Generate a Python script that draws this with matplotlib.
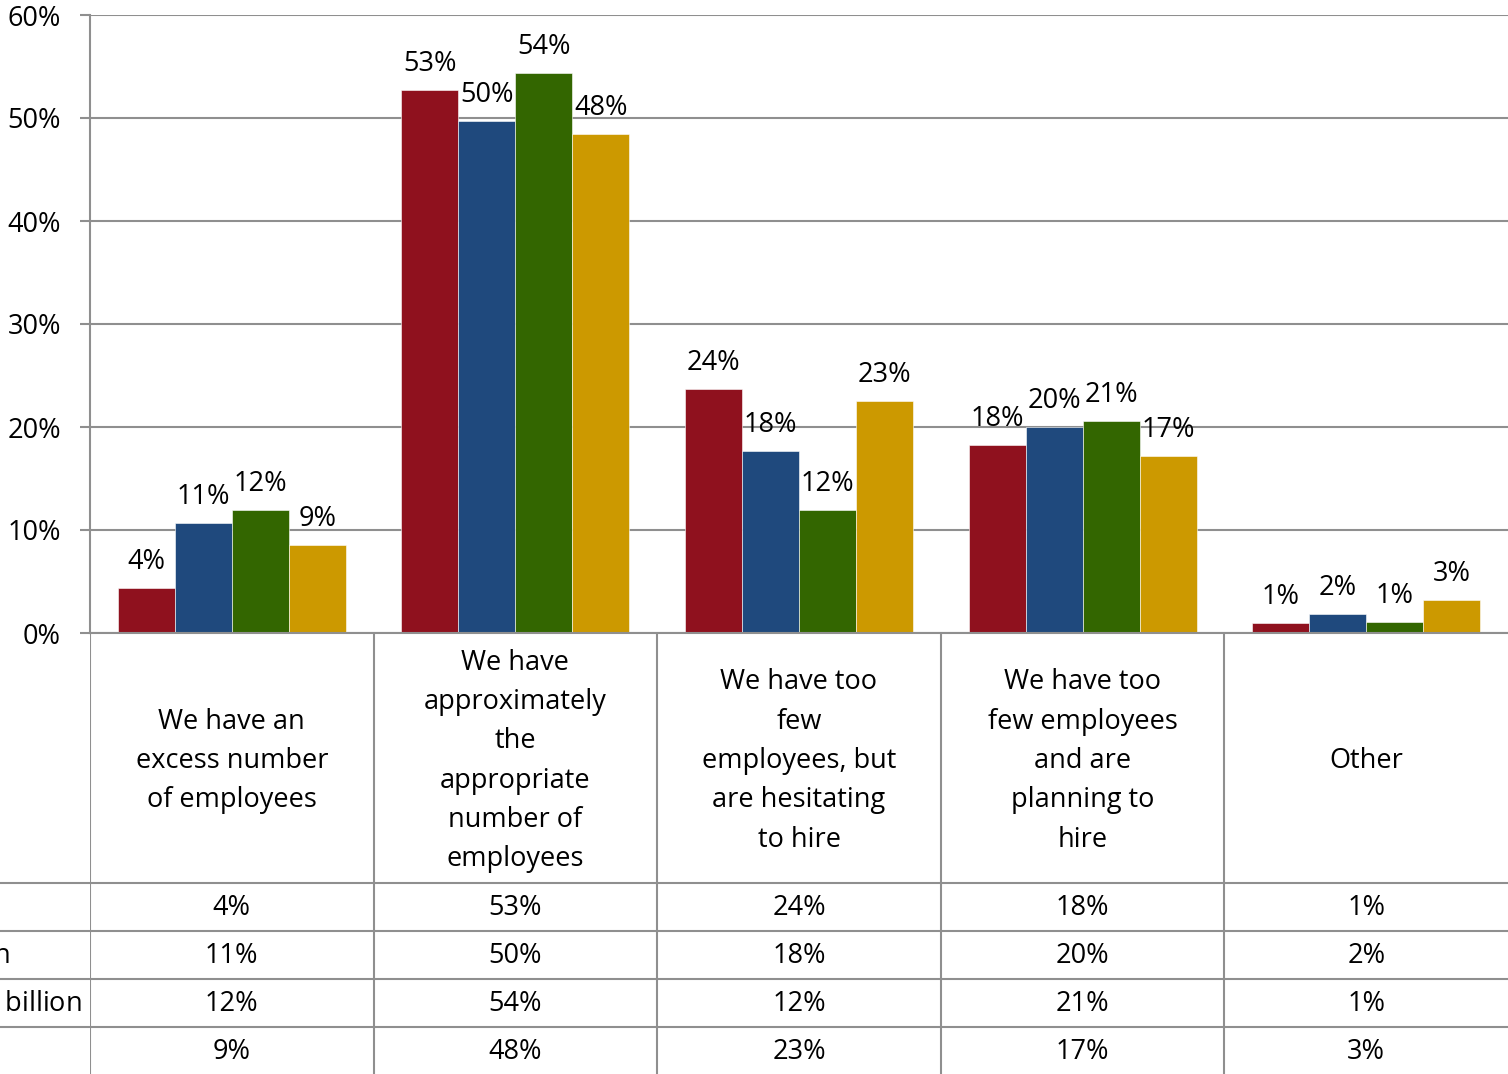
import matplotlib
matplotlib.use("Agg")
import matplotlib.pyplot as plt
import numpy as np

plt.rcParams['font.family'] = ['Open Sans', 'DejaVu Sans']

categories = [
    "We have an\nexcess number\nof employees",
    "We have\napproximately\nthe\nappropriate\nnumber of\nemployees",
    "We have too\nfew\nemployees, but\nare hesitating\nto hire",
    "We have too\nfew employees\nand are\nplanning to\nhire",
    "Other",
]
series_names = [
    "Under $100 million",
    "$100 million - $500 million",
    "$500 million - $1 billion",
    "Over $1 billion",
]
# share of respondents (%) per series, one value per category
under_100m = [4.37, 52.72, 23.69, 18.25, 0.97]
m100_to_500m = [10.68, 49.71, 17.67, 20.0, 1.84]
m500_to_1b = [11.94, 54.37, 11.94, 20.58, 1.07]
over_1b = [8.54, 48.45, 22.52, 17.18, 3.2]
series = [under_100m, m100_to_500m, m500_to_1b, over_1b]
colors = ['#8F111E', '#1F497D', '#336600', '#CC9900']
yticks = [0, 10, 20, 30, 40, 50, 60]

W, H = 1508, 1074
fig = plt.figure(figsize=(W / 100, H / 100), dpi=100)
grid_c = '#8f8f8f'
fs = 19.5

# bar chart area
ax = fig.add_axes([90 / W, 441 / H, 1418 / W, 618 / H])
x = np.arange(len(categories))
bw = 0.201
for i, (vals, c) in enumerate(zip(series, colors)):
    xs = x + (i - 1.5) * bw
    ax.bar(xs, vals, width=bw, color=c, edgecolor='white', linewidth=0.4, zorder=3)
    for xi, v in zip(xs, vals):
        ax.annotate(f"{v:.0f}%", (xi, v), xytext=(0, 19), textcoords='offset points',
                    ha='center', va='center', fontsize=fs, zorder=4)

ax.set_xlim(-0.5, len(categories) - 0.5)
ax.set_ylim(0, 60)
ax.set_yticks(yticks)
ax.set_yticklabels([f"{t}%" for t in yticks], fontsize=fs)
ax.yaxis.grid(True, color=grid_c, linewidth=1.5, zorder=0)
ax.tick_params(axis='y', length=7, width=1.5, color=grid_c, pad=14)
ax.tick_params(axis='x', length=0, labelbottom=False)
for s in ['top', 'right']:
    ax.spines[s].set_visible(False)
for s in ['left', 'bottom']:
    ax.spines[s].set_color(grid_c)
    ax.spines[s].set_linewidth(1.5)
ax.spines['bottom'].set_zorder(5)

# data table under the bars
tax = fig.add_axes([90 / W, 0, 1418 / W, 441 / H])
tax.set_xlim(-0.5, len(categories) - 0.5)
tax.set_ylim(441, 0)
tax.axis('off')
header_h, row_h = 250, 48
tax.axvline(-0.5, color=grid_c, linewidth=1.5)
for b in np.arange(0.5, len(categories) - 0.5, 1):
    tax.axvline(b, color=grid_c, linewidth=1.5)
for r in range(len(series)):
    tax.axhline(header_h + r * row_h, xmin=-90 / 1418, xmax=1, color=grid_c,
                linewidth=1.5, clip_on=False)

for i, cat in enumerate(categories):
    tax.text(i, header_h / 2 + 3, cat, ha='center', va='center', fontsize=fs,
             linespacing=1.54)

# row labels are left-aligned in a column wider than the page, so only their tails show
label_end_px = [-20, 10, 82, -20]
for r, (name, vals) in enumerate(zip(series_names, series)):
    yc = header_h + r * row_h + row_h / 2 + 1
    for i, v in enumerate(vals):
        tax.text(i, yc, f"{v:.0f}%", ha='center', va='center', fontsize=fs)
    tax.text(-0.5 + (label_end_px[r] - 90) / 283.6, yc, name, ha='right',
             va='center', fontsize=fs, clip_on=False)

fig.savefig("out.png", dpi=100)
